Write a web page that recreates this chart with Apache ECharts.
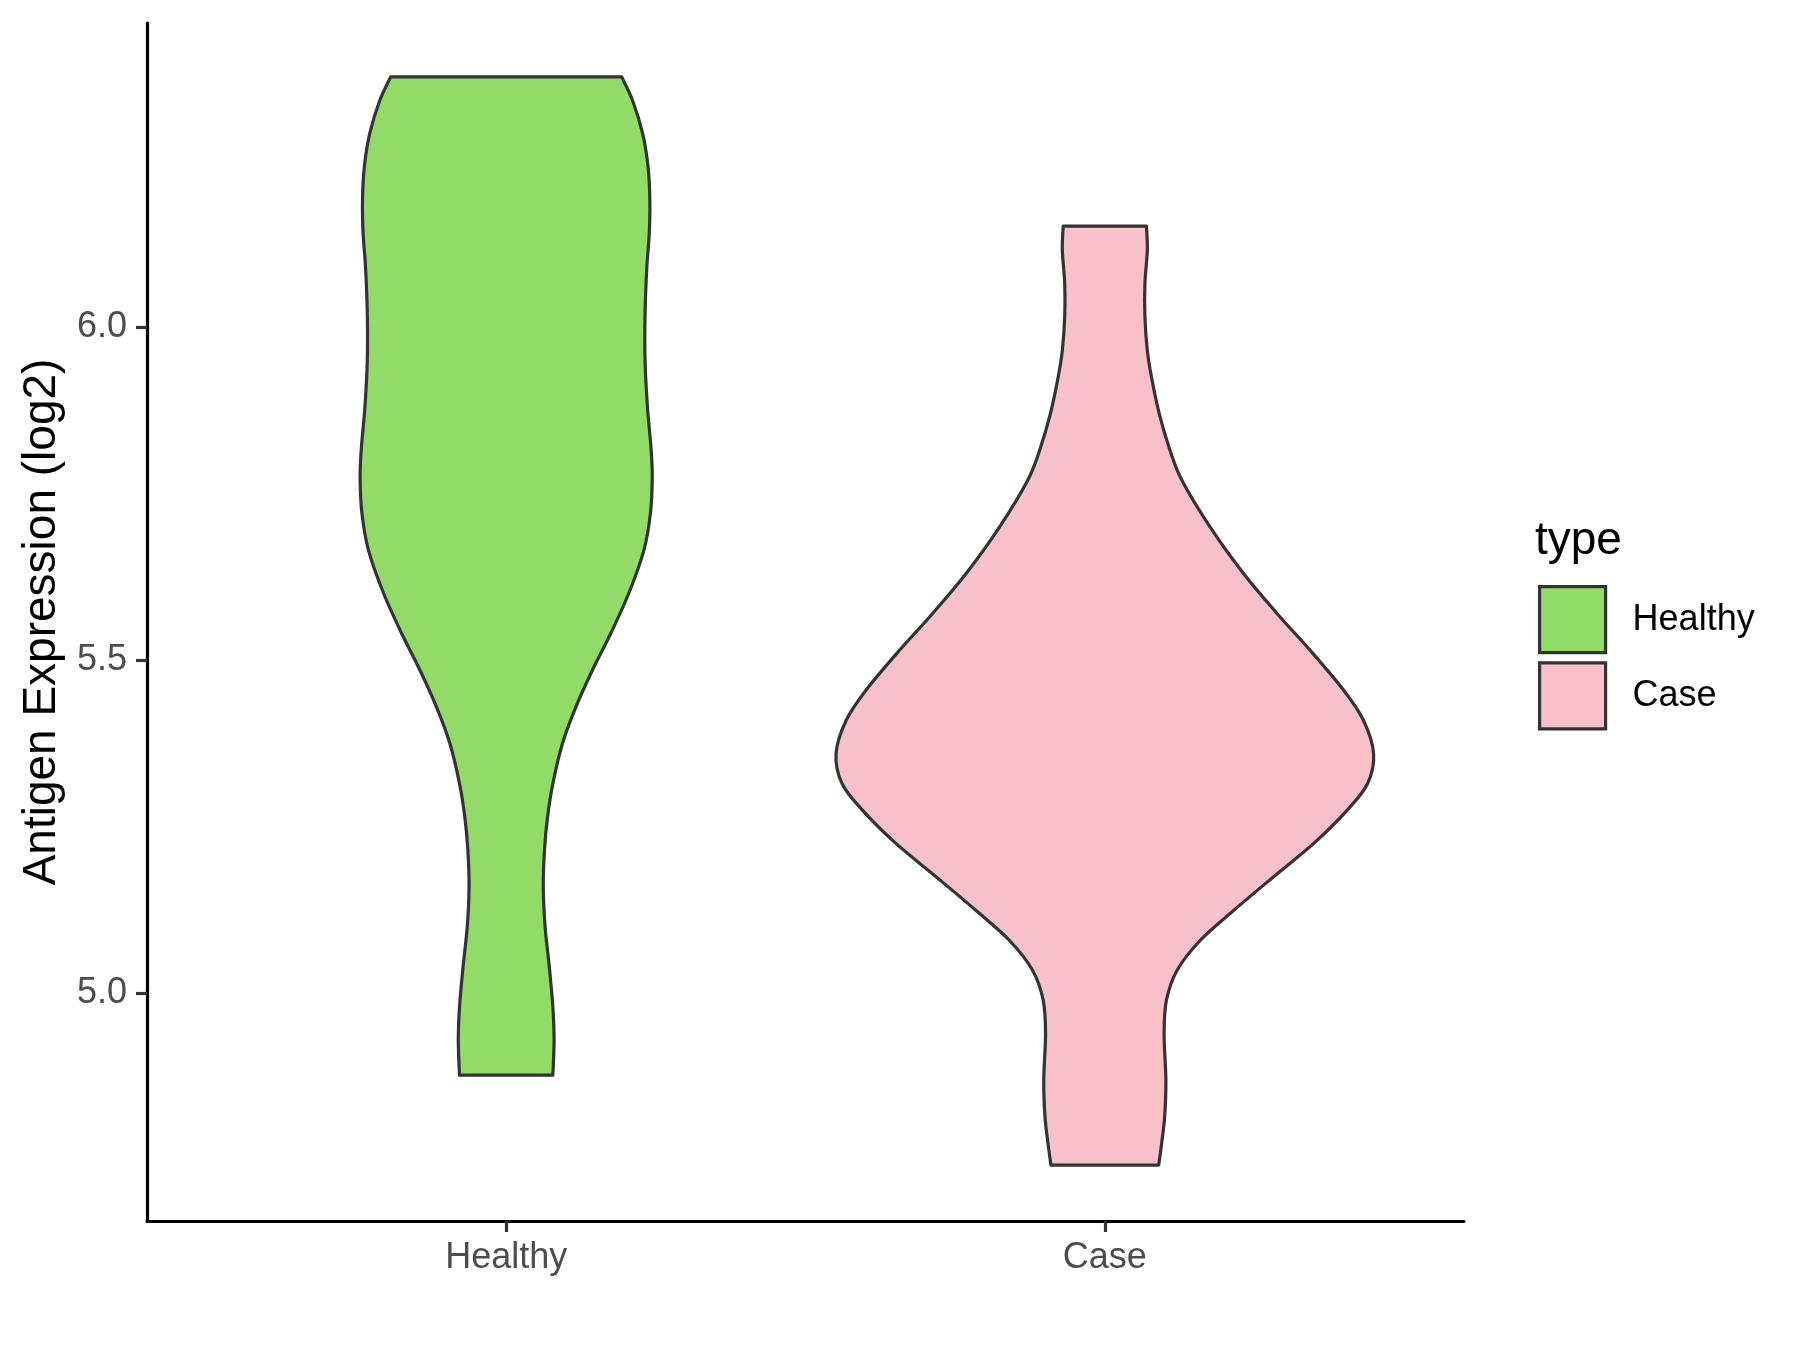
<!DOCTYPE html>
<html>
<head>
<meta charset="utf-8">
<title>Antigen Expression (log2)</title>
<script src="https://cdn.jsdelivr.net/npm/echarts@6/dist/echarts.min.js"></script>
<style>
html, body { margin: 0; padding: 0; background: #fff; }
#chart { width: 1800px; height: 1350px; }
</style>
</head>
<body>
<div id="chart"></div>
<script>
// categories on the x axis
const categories = ['Healthy', 'Case'];
const positions = [1, 2];
const fillColors = ['#93DB69', '#F8C0CB'];

// violin outlines: expression value and half width (in x units)
const healthyValues = [6.376, 6.341, 6.291, 6.241, 6.191, 6.141, 6.091, 6.021, 5.950, 5.880, 5.818, 5.775, 5.721, 5.665, 5.601, 5.541, 5.485, 5.429, 5.375, 5.315, 5.264, 5.215, 5.160, 5.100, 5.040, 4.979, 4.929, 4.877];
const healthyHalfWidths = [0.193, 0.211, 0.228, 0.237, 0.240, 0.239, 0.235, 0.232, 0.232, 0.236, 0.242, 0.244, 0.241, 0.230, 0.205, 0.175, 0.144, 0.116, 0.094, 0.078, 0.069, 0.064, 0.062, 0.065, 0.072, 0.078, 0.080, 0.078];

const caseValues = [6.152, 6.116, 6.066, 6.016, 5.965, 5.925, 5.870, 5.815, 5.770, 5.700, 5.630, 5.570, 5.515, 5.455, 5.410, 5.360, 5.315, 5.275, 5.225, 5.175, 5.125, 5.080, 5.035, 4.990, 4.940, 4.870, 4.815, 4.775, 4.742];
const caseHalfWidths = [0.0695, 0.071, 0.067, 0.067, 0.071, 0.078, 0.091, 0.109, 0.129, 0.176, 0.232, 0.288, 0.343, 0.399, 0.432, 0.449, 0.439, 0.405, 0.349, 0.282, 0.216, 0.160, 0.121, 0.103, 0.099, 0.102, 0.100, 0.095, 0.090];

// y axis ticks
const yTicks = [5.0, 5.5, 6.0];

const chart = echarts.init(document.getElementById('chart'));

// smooth curve through a list of pixel points (catmull-rom -> cubic bezier)
function curveThrough(pts) {
  let d = '';
  for (let i = 0; i < pts.length - 1; i++) {
    const p0 = pts[Math.max(i - 1, 0)];
    const p1 = pts[i];
    const p2 = pts[i + 1];
    const p3 = pts[Math.min(i + 2, pts.length - 1)];
    const c1x = p1[0] + (p2[0] - p0[0]) / 6;
    const c1y = p1[1] + (p2[1] - p0[1]) / 6;
    const c2x = p2[0] - (p3[0] - p1[0]) / 6;
    const c2y = p2[1] - (p3[1] - p1[1]) / 6;
    d += ' C' + c1x + ' ' + c1y + ' ' + c2x + ' ' + c2y + ' ' + p2[0] + ' ' + p2[1];
  }
  return d;
}

function violinRenderer(values, halfWidths, pos, color) {
  return function (params, api) {
    const left = values.map((v, i) => api.coord([pos - halfWidths[i], v]));
    const right = values.map((v, i) => api.coord([pos + halfWidths[i], v])).reverse();
    let d = 'M' + left[0][0] + ' ' + left[0][1];
    d += curveThrough(left);
    d += ' L' + right[0][0] + ' ' + right[0][1];
    d += curveThrough(right);
    d += ' Z';
    return {
      type: 'path',
      shape: { pathData: d },
      style: { fill: color, stroke: '#333333', lineWidth: 3.2, lineJoin: 'round' }
    };
  };
}

const profiles = [
  { values: healthyValues, halfWidths: healthyHalfWidths },
  { values: caseValues, halfWidths: caseHalfWidths }
];

const option = {
  animation: false,
  backgroundColor: '#ffffff',
  textStyle: { fontFamily: 'Liberation Sans, Arial, sans-serif' },
  title: {
    text: 'type',
    left: 1535,
    top: 518,
    padding: 0,
    textStyle: { fontSize: 46, fontWeight: 'normal', color: '#000' }
  },
  legend: {
    orient: 'vertical',
    left: 1538,
    top: 585,
    padding: 0,
    itemWidth: 66,
    itemHeight: 66,
    itemGap: 7,
    icon: 'rect',
    textStyle: { fontSize: 36, color: '#000', padding: [0, 0, 0, 22] },
    data: categories.map((c, i) => ({
      name: c,
      itemStyle: { color: fillColors[i], borderColor: '#333333', borderWidth: 3.2 }
    }))
  },
  grid: {
    left: 147,
    right: 336,
    top: 23,
    bottom: 129,
    containLabel: false,
    outerBoundsMode: 'none'
  },
  xAxis: {
    type: 'value',
    min: 0.4,
    max: 2.6,
    splitLine: { show: false },
    axisLine: { onZero: false, lineStyle: { color: '#000', width: 3.2 } },
    axisTick: { customValues: positions, length: 11, lineStyle: { color: '#333', width: 3.2 } },
    axisLabel: {
      customValues: positions,
      formatter: v => categories[positions.indexOf(v)] || '',
      fontSize: 36,
      color: '#4D4D4D',
      margin: 19
    }
  },
  yAxis: {
    type: 'value',
    min: 4.658,
    max: 6.457,
    name: 'Antigen Expression (log2)',
    nameLocation: 'middle',
    nameGap: 82,
    nameTextStyle: { fontSize: 46, color: '#000' },
    splitLine: { show: false },
    axisLine: { show: true, onZero: false, lineStyle: { color: '#000', width: 3.2 } },
    axisTick: { show: true, customValues: yTicks, length: 11, lineStyle: { color: '#333', width: 3.2 } },
    axisLabel: {
      customValues: yTicks,
      formatter: v => v.toFixed(1),
      fontSize: 36,
      color: '#4D4D4D',
      margin: 20
    }
  },
  series: categories.map((name, i) => ({
    type: 'custom',
    name: name,
    coordinateSystem: 'cartesian2d',
    itemStyle: { color: fillColors[i] },
    data: [[positions[i], profiles[i].values[0]]],
    renderItem: violinRenderer(profiles[i].values, profiles[i].halfWidths, positions[i], fillColors[i])
  }))
};

chart.setOption(option);
</script>
</body>
</html>
